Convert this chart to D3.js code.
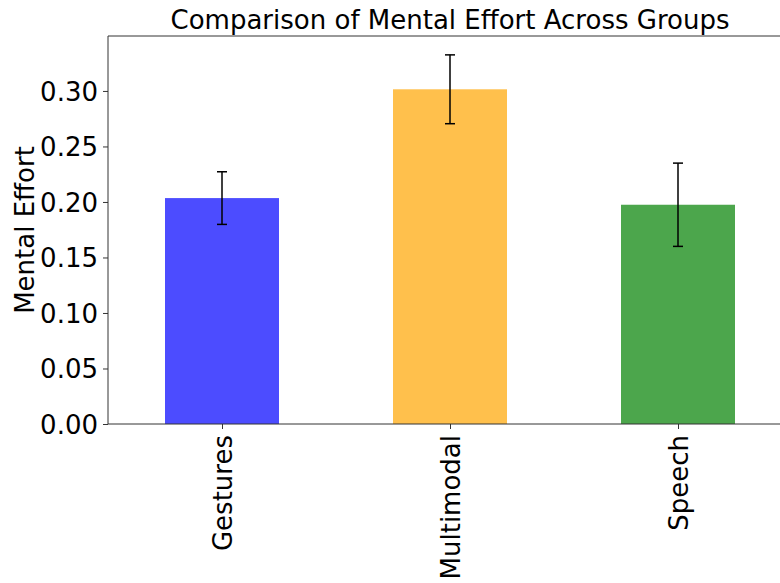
<!DOCTYPE html>
<html>
<head>
<meta charset="utf-8">
<script src="https://cdn.jsdelivr.net/npm/d3@7"></script>
<style>
  html, body { margin: 0; padding: 0; background: #fff; }
  svg { display: block; }
  text { font-family: "DejaVu Sans", sans-serif; fill: #000; }
</style>
</head>
<body>
<script>
// Mean mental effort per interaction group, with error bar half-widths
const groups = ["Gestures", "Multimodal", "Speech"];
const means = [0.2035, 0.3015, 0.1975];
const errors = [0.0237, 0.031, 0.0375];
const barColors = ["rgba(0,0,255,0.7)", "rgba(255,165,0,0.7)", "rgba(0,128,0,0.7)"];
const yTicks = [0.00, 0.05, 0.10, 0.15, 0.20, 0.25, 0.30];

const W = 780, H = 583;
const plot = { left: 108, right: 792, top: 36, bottom: 424 };
const fontPx = 26;

const svg = d3.select("body").append("svg")
  .attr("width", W).attr("height", H);

// Categorical x positions at 0,1,2 with half a slot of margin on each side
const x = d3.scaleLinear().domain([-0.5, groups.length - 0.5])
  .range([plot.left, plot.right]);
const y = d3.scaleLinear().domain([0, 0.3495])
  .range([plot.bottom, plot.top]);
const slot = x(1) - x(0);
const barW = slot * 0.5;

// Bars
svg.append("g").selectAll("rect")
  .data(groups)
  .join("rect")
  .attr("x", (d, i) => x(i) - barW / 2)
  .attr("y", (d, i) => y(means[i]))
  .attr("width", barW)
  .attr("height", (d, i) => y(0) - y(means[i]))
  .attr("fill", (d, i) => barColors[i]);

// Error bars with caps
const eb = svg.append("g").attr("stroke", "#000").attr("stroke-width", 1.5);
groups.forEach((g, i) => {
  const cx = x(i);
  const lo = y(means[i] - errors[i]);
  const hi = y(means[i] + errors[i]);
  eb.append("line").attr("x1", cx).attr("x2", cx).attr("y1", lo).attr("y2", hi);
  eb.append("line").attr("x1", cx - 5).attr("x2", cx + 5).attr("y1", lo).attr("y2", lo);
  eb.append("line").attr("x1", cx - 5).attr("x2", cx + 5).attr("y1", hi).attr("y2", hi);
});

// Y axis
const yAxis = svg.append("g")
  .attr("transform", `translate(${plot.left},0)`)
  .call(d3.axisLeft(y).tickValues(yTicks).tickFormat(d3.format(".2f"))
    .tickSize(5).tickPadding(5));
yAxis.select(".domain").remove();
yAxis.selectAll(".tick line").attr("stroke", "#333").attr("stroke-width", 1);
yAxis.selectAll(".tick text")
  .attr("font-size", fontPx)
  .attr("font-family", "DejaVu Sans, sans-serif")
  .attr("dy", "0.36em");

// X axis with vertical category labels
const xAxis = svg.append("g")
  .attr("transform", `translate(0,${plot.bottom})`)
  .call(d3.axisBottom(x).tickValues(d3.range(groups.length))
    .tickFormat(i => groups[i]).tickSize(5).tickPadding(0));
xAxis.select(".domain").remove();
xAxis.selectAll(".tick line").attr("stroke", "#333").attr("stroke-width", 1);
xAxis.selectAll(".tick text")
  .attr("font-size", fontPx)
  .attr("font-family", "DejaVu Sans, sans-serif")
  .attr("text-anchor", "end")
  .attr("dy", null)
  .attr("y", 0)
  .attr("transform", "translate(9.5,11) rotate(-90)");

// Axes frame: left, bottom and top spines
const spine = svg.append("g").attr("stroke", "#333").attr("stroke-width", 1).attr("fill", "none");
spine.append("line").attr("x1", plot.left).attr("x2", plot.left).attr("y1", plot.top).attr("y2", plot.bottom);
spine.append("line").attr("x1", plot.left).attr("x2", plot.right).attr("y1", plot.bottom).attr("y2", plot.bottom);
spine.append("line").attr("x1", plot.left).attr("x2", plot.right).attr("y1", plot.top).attr("y2", plot.top);
spine.append("line").attr("x1", plot.right).attr("x2", plot.right).attr("y1", plot.top).attr("y2", plot.bottom);

// Y axis label
svg.append("text")
  .attr("transform", `translate(34,${(plot.top + plot.bottom) / 2}) rotate(-90)`)
  .attr("text-anchor", "middle")
  .attr("font-size", fontPx)
  .text("Mental Effort");

// Title
svg.append("text")
  .attr("x", (plot.left + plot.right) / 2)
  .attr("y", 28.5)
  .attr("text-anchor", "middle")
  .attr("font-size", fontPx)
  .text("Comparison of Mental Effort Across Groups");
</script>
</body>
</html>
